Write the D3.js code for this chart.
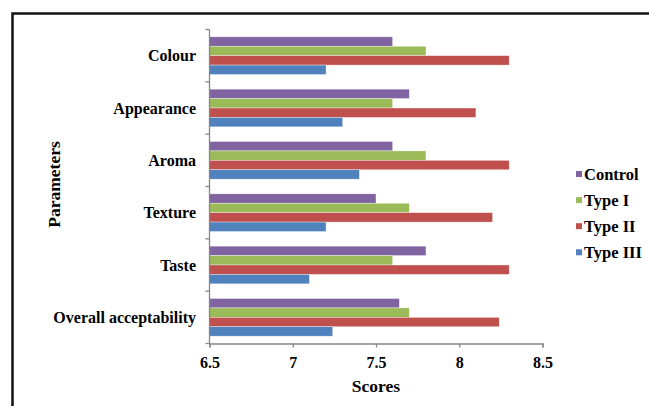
<!DOCTYPE html>
<html>
<head>
<meta charset="utf-8">
<script src="https://cdn.jsdelivr.net/npm/d3@7/dist/d3.min.js"></script>
<style>
  html, body { margin: 0; padding: 0; background: #fff; }
  svg { display: block; }
  text { font-family: "Liberation Serif", "Times New Roman", serif; font-weight: bold; fill: #000; }
</style>
</head>
<body>
<svg id="chart" width="649" height="406"></svg>
<script>
// Sensory scores per parameter for each sample type
const parameters = ["Colour", "Appearance", "Aroma", "Texture", "Taste", "Overall acceptability"];
const seriesNames = ["Control", "Type I", "Type II", "Type III"];
const control  = [7.6, 7.7, 7.6, 7.5, 7.8, 7.64];
const typeI    = [7.8, 7.6, 7.8, 7.7, 7.6, 7.7];
const typeII   = [8.3, 8.1, 8.3, 8.2, 8.3, 8.24];
const typeIII  = [7.2, 7.3, 7.4, 7.2, 7.1, 7.24];
const seriesValues = [control, typeI, typeII, typeIII];
const seriesColors = ["#8064A2", "#9BBB59", "#C0504D", "#4F81BD"];
const xTicks = [6.5, 7, 7.5, 8, 8.5];
const xDomain = [6.5, 8.5];

const svg = d3.select("#chart");

// Outer frame (top and left edges visible within the view)
svg.append("path")
  .attr("d", "M12.5,420 L12.5,13.5 L660,13.5")
  .attr("fill", "none")
  .attr("stroke", "#111")
  .attr("stroke-width", 2.5);

const plot = { left: 209.5, right: 542.5, top: 29.5, bottom: 343.5 };

const x = d3.scaleLinear().domain(xDomain).range([plot.left, plot.right]);
const y = d3.scaleBand().domain(parameters).range([plot.top, plot.bottom]).paddingInner(0.28).paddingOuter(0.14);
const ySub = d3.scaleBand().domain(seriesNames).range([0, y.bandwidth()]);

// Bars
const rows = parameters.map((p, i) => ({ p, vals: seriesNames.map((s, j) => ({ s, v: seriesValues[j][i], c: seriesColors[j] })) }));
const groups = svg.append("g").selectAll("g").data(rows).join("g")
  .attr("transform", d => `translate(0,${y(d.p)})`);
groups.selectAll("rect").data(d => d.vals).join("rect")
  .attr("x", x(xDomain[0]))
  .attr("y", d => ySub(d.s))
  .attr("width", d => x(d.v) - x(xDomain[0]))
  .attr("height", ySub.bandwidth())
  .attr("fill", d => d.c)
  .attr("stroke", "#fff")
  .attr("stroke-opacity", 0.6)
  .attr("stroke-width", 0.6);

// X axis
const xAxis = svg.append("g")
  .attr("transform", `translate(0,${plot.bottom})`)
  .call(d3.axisBottom(x).tickValues(xTicks).tickSize(4).tickPadding(9).tickFormat(d3.format("")));
xAxis.select(".domain").attr("stroke", "#868686").attr("stroke-width", 1.3);
xAxis.selectAll(".tick line").attr("stroke", "#868686").attr("stroke-width", 1.3);
xAxis.selectAll(".tick text")
  .attr("font-size", 16)
  .attr("font-family", "Liberation Serif")
  .attr("font-weight", "bold")
  .attr("fill", "#000");

// Y axis: category boundaries as tick marks
const boundaries = d3.range(parameters.length + 1).map(i => plot.top + i * (plot.bottom - plot.top) / parameters.length);
svg.append("line")
  .attr("x1", plot.left).attr("x2", plot.left)
  .attr("y1", plot.top).attr("y2", plot.bottom)
  .attr("stroke", "#868686").attr("stroke-width", 1.3);
svg.append("g").selectAll("line").data(boundaries).join("line")
  .attr("x1", plot.left - 4).attr("x2", plot.left)
  .attr("y1", d => d).attr("y2", d => d)
  .attr("stroke", "#868686").attr("stroke-width", 1.3);

// Category labels
svg.append("g").selectAll("text").data(parameters).join("text")
  .attr("x", 196)
  .attr("y", d => y(d) + y.bandwidth() / 2)
  .attr("dy", "0.35em")
  .attr("text-anchor", "end")
  .attr("font-size", 16)
  .text(d => d);

// Axis titles
svg.append("text")
  .attr("x", (plot.left + plot.right) / 2)
  .attr("y", 392)
  .attr("text-anchor", "middle")
  .attr("font-size", 17.5)
  .text("Scores");

svg.append("text")
  .attr("transform", `translate(60,${(plot.top + plot.bottom) / 2 - 2}) rotate(-90)`)
  .attr("text-anchor", "middle")
  .attr("font-size", 17.5)
  .text("Parameters");

// Legend
const legend = svg.append("g").attr("transform", "translate(576,174)");
const li = legend.selectAll("g").data(seriesNames).join("g")
  .attr("transform", (d, i) => `translate(0,${i * 26.1})`);
li.append("rect")
  .attr("x", 0).attr("y", -3).attr("width", 6).attr("height", 6)
  .attr("fill", (d, i) => seriesColors[i]);
li.append("text")
  .attr("x", 8).attr("y", 0).attr("dy", "0.35em")
  .attr("font-size", 16.5)
  .text(d => d);
</script>
</body>
</html>
